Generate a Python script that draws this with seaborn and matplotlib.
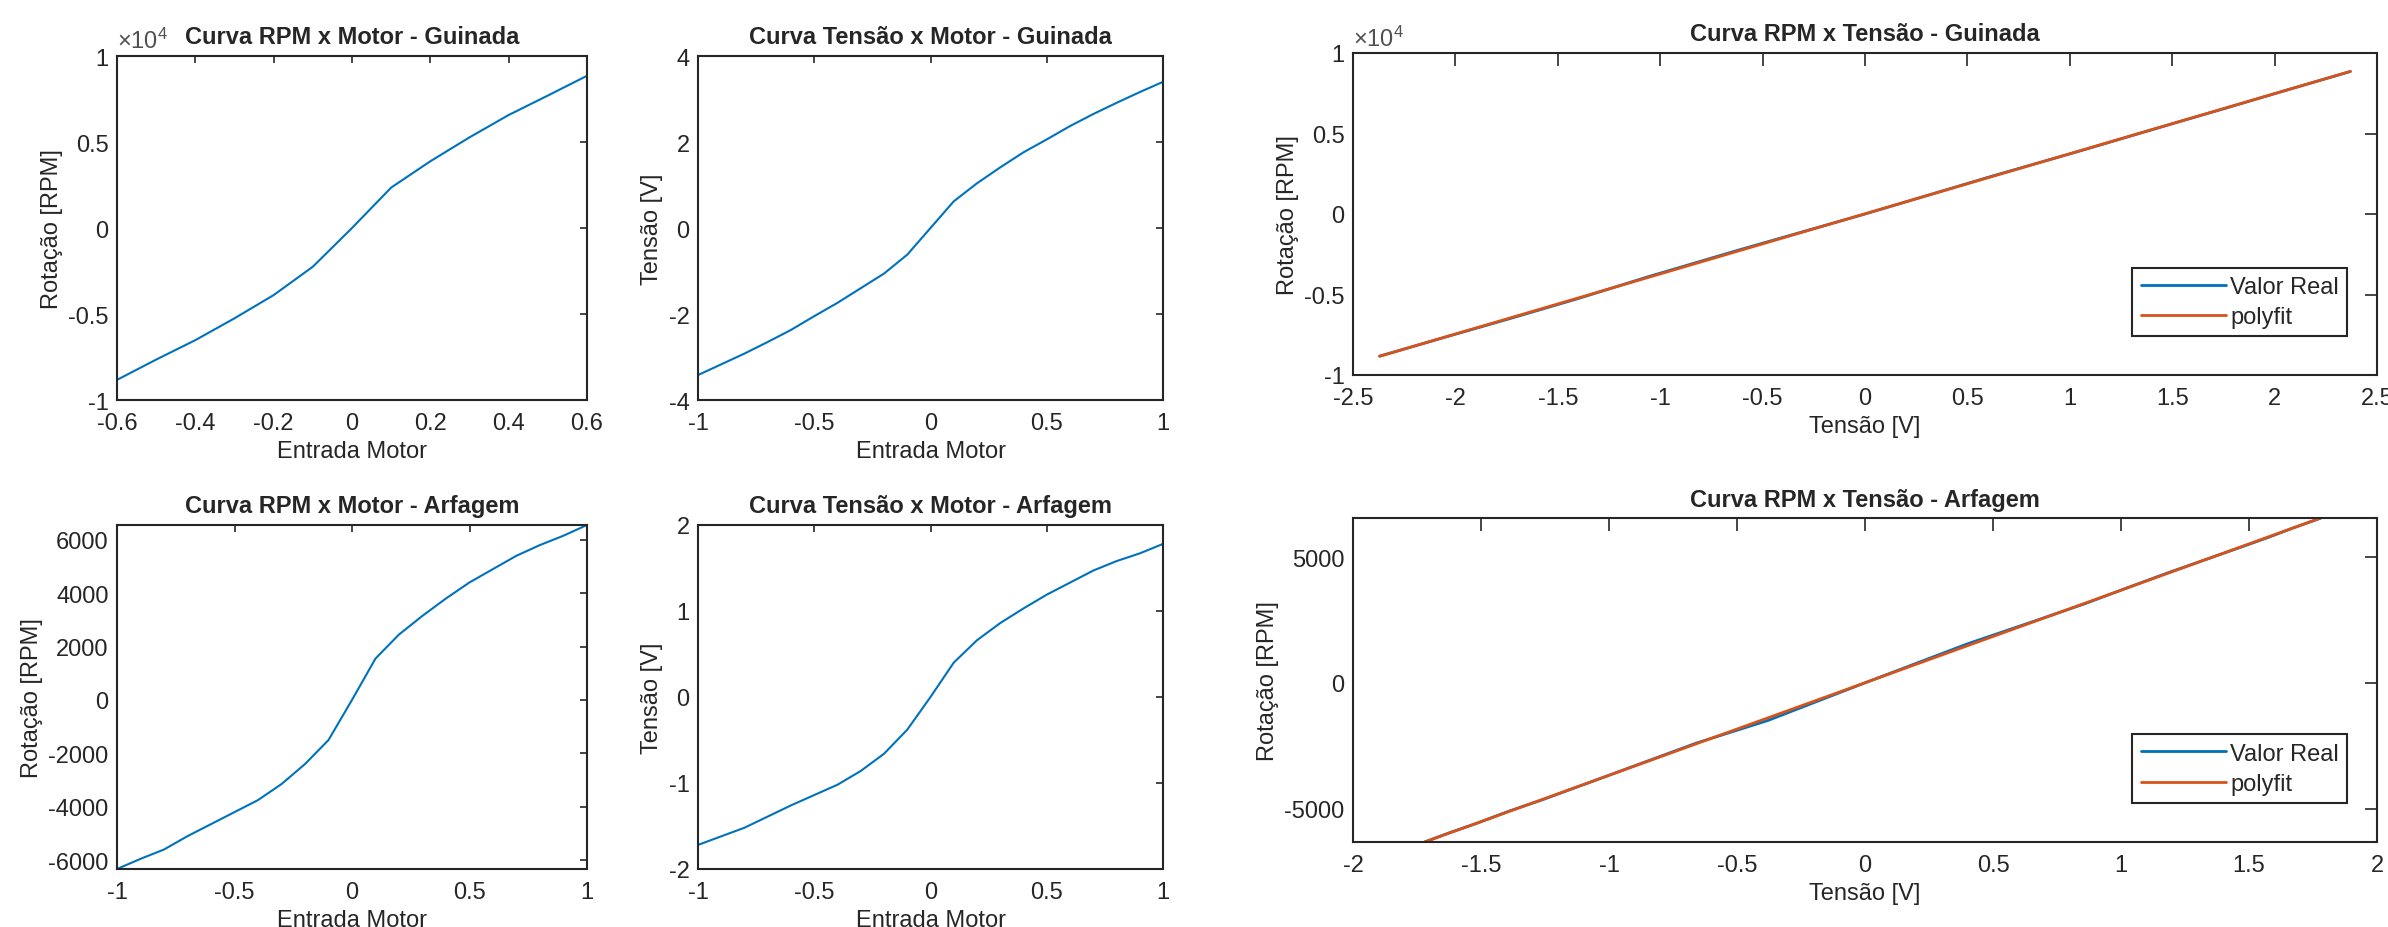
import numpy as np
import matplotlib
matplotlib.use("Agg")
import matplotlib.pyplot as plt
from matplotlib.ticker import FuncFormatter, MultipleLocator
import seaborn as sns

# --- data ---
entrada_guinada = [-0.6, -0.5, -0.4, -0.3, -0.2, -0.1, 0.0, 0.1, 0.2, 0.3, 0.4, 0.5, 0.6]
rpm_guinada = [-8830, -7650, -6520, -5250, -3900, -2250, 0, 2350, 3880, 5270, 6570, 7700, 8850]

entrada = [-1.0, -0.9, -0.8, -0.7, -0.6, -0.5, -0.4, -0.3, -0.2, -0.1, 0.0,
           0.1, 0.2, 0.3, 0.4, 0.5, 0.6, 0.7, 0.8, 0.9, 1.0]
tensao_guinada = [-3.42, -3.17, -2.92, -2.65, -2.37, -2.05, -1.74, -1.40, -1.06, -0.62, 0.0,
                  0.62, 1.04, 1.41, 1.76, 2.06, 2.37, 2.65, 2.91, 3.16, 3.40]

rpm_arfagem = [-6330, -5950, -5600, -5100, -4650, -4200, -3750, -3150, -2400, -1500, 0,
               1550, 2450, 3150, 3800, 4400, 4900, 5400, 5800, 6150, 6550]
tensao_arfagem = [-1.72, -1.62, -1.52, -1.39, -1.26, -1.14, -1.02, -0.86, -0.66, -0.38, 0.0,
                  0.40, 0.66, 0.86, 1.03, 1.19, 1.33, 1.47, 1.58, 1.67, 1.78]

# valor real for the yaw fit: voltage at the same motor inputs as the rpm curve
tensao_guinada_fit = tensao_guinada[4:17]

# --- style ---
sns.set_theme(style="white")
plt.rcParams["font.family"] = ["Liberation Sans", "DejaVu Sans"]
plt.rcParams["mathtext.fontset"] = "custom"
plt.rcParams["mathtext.rm"] = "Liberation Sans"
plt.rcParams["axes.unicode_minus"] = False

AZUL = "#0072BD"
LARANJA = "#D95319"
CINZA = "#262626"
FS = 17

W, H = 2388, 928
fig = plt.figure(figsize=(W / 100, H / 100), dpi=100)


def make_ax(left, right, top, bottom):
    return fig.add_axes([left / W, 1 - bottom / H, (right - left) / W, (bottom - top) / H])


def fmt(escala=1.0):
    def f(v, p):
        v = round(v / escala, 6)
        if v == 0:
            v = 0.0
        return f"{v:g}"
    return FuncFormatter(f)


def estilo(ax, ticklen):
    for s in ax.spines.values():
        s.set_linewidth(1.5)
        s.set_color(CINZA)
    ax.tick_params(direction="in", length=ticklen, width=1.2, colors=CINZA,
                   top=True, right=True, labelsize=FS)
    ax.tick_params(axis="x", pad=9)
    ax.tick_params(axis="y", pad=6)
    ax.xaxis.set_major_formatter(fmt())
    if not getattr(ax, "_x10", False):
        ax.yaxis.set_major_formatter(fmt())


def x10(ax):
    ax._x10 = True
    ax.yaxis.set_major_formatter(fmt(1e4))
    ax.text(0.0, 1.008, r"$\times\mathregular{10^4}$", transform=ax.transAxes,
            fontsize=FS, color="#505050", ha="left", va="bottom")


ax1 = make_ax(117, 587, 57, 401)
ax2 = make_ax(698, 1163, 57, 401)
ax3 = make_ax(117, 587, 526, 870)
ax4 = make_ax(698, 1163, 526, 870)
ax5 = make_ax(1353, 2377, 54, 376)
ax6 = make_ax(1353, 2377, 519, 843)

# --- RPM x Motor - Guinada ---
sns.lineplot(x=entrada_guinada, y=rpm_guinada, ax=ax1, color=AZUL, lw=1.5, estimator=None)
ax1.set_xlim(-0.6, 0.6)
ax1.set_ylim(-1e4, 1e4)
ax1.xaxis.set_major_locator(MultipleLocator(0.2))
ax1.yaxis.set_major_locator(MultipleLocator(5000))
x10(ax1)
ax1.set_title("Curva RPM x Motor - Guinada", fontsize=FS, fontweight="bold", pad=9)
ax1.set_xlabel("Entrada Motor", fontsize=FS, color=CINZA)
ax1.set_ylabel("Rotação [RPM]", fontsize=FS, color=CINZA)

# --- Tensao x Motor - Guinada ---
sns.lineplot(x=entrada, y=tensao_guinada, ax=ax2, color=AZUL, lw=1.5, estimator=None)
ax2.set_xlim(-1, 1)
ax2.set_ylim(-4, 4)
ax2.xaxis.set_major_locator(MultipleLocator(0.5))
ax2.yaxis.set_major_locator(MultipleLocator(2))
ax2.set_title("Curva Tensão x Motor - Guinada", fontsize=FS, fontweight="bold", pad=9)
ax2.set_xlabel("Entrada Motor", fontsize=FS, color=CINZA)
ax2.set_ylabel("Tensão [V]", fontsize=FS, color=CINZA)

# --- RPM x Motor - Arfagem ---
sns.lineplot(x=entrada, y=rpm_arfagem, ax=ax3, color=AZUL, lw=1.5, estimator=None)
ax3.set_xlim(-1, 1)
ax3.set_ylim(min(rpm_arfagem), max(rpm_arfagem))
ax3.xaxis.set_major_locator(MultipleLocator(0.5))
ax3.yaxis.set_major_locator(MultipleLocator(2000))
ax3.set_title("Curva RPM x Motor - Arfagem", fontsize=FS, fontweight="bold", pad=9)
ax3.set_xlabel("Entrada Motor", fontsize=FS, color=CINZA)
ax3.set_ylabel("Rotação [RPM]", fontsize=FS, color=CINZA)

# --- Tensao x Motor - Arfagem ---
sns.lineplot(x=entrada, y=tensao_arfagem, ax=ax4, color=AZUL, lw=1.5, estimator=None)
ax4.set_xlim(-1, 1)
ax4.set_ylim(-2, 2)
ax4.xaxis.set_major_locator(MultipleLocator(0.5))
ax4.yaxis.set_major_locator(MultipleLocator(1))
ax4.set_title("Curva Tensão x Motor - Arfagem", fontsize=FS, fontweight="bold", pad=9)
ax4.set_xlabel("Entrada Motor", fontsize=FS, color=CINZA)
ax4.set_ylabel("Tensão [V]", fontsize=FS, color=CINZA)

# --- RPM x Tensao with linear polyfit ---
coef_g = np.polyfit(tensao_guinada_fit, rpm_guinada, 1)
coef_a = np.polyfit(tensao_arfagem, rpm_arfagem, 1)
fit_g = np.polyval(coef_g, tensao_guinada_fit)
fit_a = np.polyval(coef_a, tensao_arfagem)

sns.lineplot(x=tensao_guinada_fit, y=rpm_guinada, ax=ax5, color=AZUL, lw=2, estimator=None,
             sort=False, label="Valor Real")
sns.lineplot(x=tensao_guinada_fit, y=fit_g, ax=ax5, color=LARANJA, lw=2, estimator=None,
             sort=False, label="polyfit")
ax5.set_xlim(-2.5, 2.5)
ax5.set_ylim(-1e4, 1e4)
ax5.xaxis.set_major_locator(MultipleLocator(0.5))
ax5.yaxis.set_major_locator(MultipleLocator(5000))
x10(ax5)
ax5.set_title("Curva RPM x Tensão - Guinada", fontsize=FS, fontweight="bold", pad=9)
ax5.set_xlabel("Tensão [V]", fontsize=FS, color=CINZA)
ax5.set_ylabel("Rotação [RPM]", fontsize=FS, color=CINZA)

sns.lineplot(x=tensao_arfagem, y=rpm_arfagem, ax=ax6, color=AZUL, lw=2, estimator=None,
             sort=False, label="Valor Real")
sns.lineplot(x=tensao_arfagem, y=fit_a, ax=ax6, color=LARANJA, lw=2, estimator=None,
             sort=False, label="polyfit")
ax6.set_xlim(-2, 2)
ax6.set_ylim(min(min(rpm_arfagem), fit_a.min()), max(max(rpm_arfagem), fit_a.max()))
ax6.xaxis.set_major_locator(MultipleLocator(0.5))
ax6.yaxis.set_major_locator(MultipleLocator(5000))
ax6.set_title("Curva RPM x Tensão - Arfagem", fontsize=FS, fontweight="bold", pad=9)
ax6.set_xlabel("Tensão [V]", fontsize=FS, color=CINZA)
ax6.set_ylabel("Rotação [RPM]", fontsize=FS, color=CINZA)

for ax in (ax1, ax2, ax3, ax4):
    estilo(ax, 5)
for ax in (ax5, ax6):
    estilo(ax, 9)
    leg = ax.legend(loc="lower right", bbox_to_anchor=(0.971, 0.12), borderaxespad=0,
                    fontsize=FS, handlelength=3.6, handletextpad=0.2, labelspacing=0.35,
                    borderpad=0.35, fancybox=False, framealpha=1, edgecolor=CINZA)
    leg.get_frame().set_linewidth(1.5)
    for t in leg.get_texts():
        t.set_color(CINZA)

fig.savefig("out.png", dpi=100)
